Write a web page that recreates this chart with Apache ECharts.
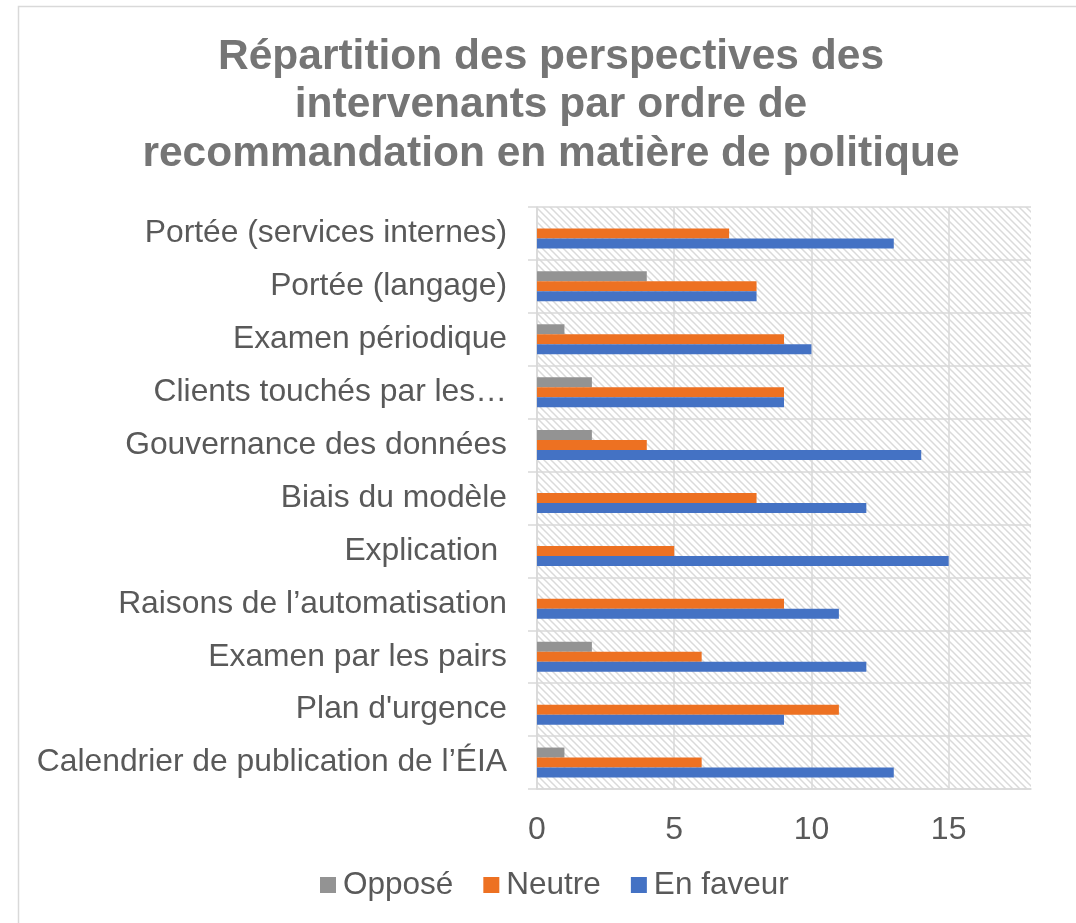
<!DOCTYPE html>
<html>
<head>
<meta charset="utf-8">
<script src="https://cdn.jsdelivr.net/npm/echarts@6/dist/echarts.min.js"></script>
<style>
html,body{margin:0;padding:0;background:#fff;}
#chart{width:1076px;height:923px;}
</style>
</head>
<body>
<div id="chart"></div>
<script>
const categories = [
  "Portée (services internes)",
  "Portée (langage)",
  "Examen périodique",
  "Clients touchés par les…",
  "Gouvernance des données",
  "Biais du modèle",
  "Explication ",
  "Raisons de l’automatisation",
  "Examen par les pairs",
  "Plan d'urgence",
  "Calendrier de publication de l’ÉIA"
];
const oppose   = [0, 4, 1, 2, 2, 0, 0, 0, 2, 0, 1];
const neutre   = [7, 8, 9, 9, 4, 8, 5, 9, 6, 11, 6];
const enFaveur = [13, 8, 10, 9, 14, 12, 15, 11, 12, 9, 13];
const xTicks = [0, 5, 10, 15];

// hatch pattern
const T = 7;
const pc = document.createElement('canvas');
pc.width = T; pc.height = T;
const g = pc.getContext('2d');
g.fillStyle = '#ffffff';
g.fillRect(0, 0, T, T);
g.strokeStyle = '#dadada';
g.lineWidth = 1.5;
g.beginPath();
g.moveTo(-2, -2); g.lineTo(T + 2, T + 2);
g.moveTo(-2, T - 2); g.lineTo(2, T + 2);
g.moveTo(T - 2, -2); g.lineTo(T + 2, 2);
g.stroke();

const font = 'Liberation Sans, Arial, sans-serif';
const gridColor = '#d9d9d9';
const chart = echarts.init(document.getElementById('chart'), null, {renderer: 'canvas'});
chart.setOption({
  backgroundColor: '#ffffff',
  animation: false,
  title: {
    text: 'Répartition des perspectives des\nintervenants par ordre de\nrecommandation en matière de politique',
    left: 546, top: 28, textAlign: 'center',
    textStyle: {fontFamily: font, fontSize: 42.5, fontWeight: 'bold', color: '#757575', lineHeight: 48.5}
  },
  graphic: [{
    type: 'rect', silent: true, z: -1,
    shape: {x: 18.5, y: 6.5, width: 1200, height: 1000},
    style: {fill: 'none', stroke: gridColor, lineWidth: 1.5}
  }],
  legend: {
    bottom: 17, left: 315,
    itemWidth: 16, itemHeight: 16, itemGap: 30,
    icon: 'rect',
    textStyle: {fontFamily: font, fontSize: 31.5, color: '#595959', padding: [0,0,0,2]},
    data: ['Opposé', 'Neutre', 'En faveur']
  },
  grid: {
    left: 537, right: 45, top: 207, bottom: 134,
    show: true, borderWidth: 0,
    backgroundColor: {image: pc, repeat: 'repeat'}
  },
  xAxis: {
    type: 'value', min: 0, max: 18, interval: 5,
    axisLine: {show: true, lineStyle: {color: gridColor, width: 1.5}},
    axisTick: {show: false},
    axisLabel: {
      fontFamily: font, fontSize: 32, color: '#595959', margin: 25,
      showMaxLabel: false,
      formatter: v => xTicks.includes(v) ? String(v) : ''
    },
    splitLine: {show: true, showMaxLine: false,
      lineStyle: {color: [gridColor, gridColor, gridColor, gridColor, 'rgba(0,0,0,0)'], width: 1.5}}
  },
  yAxis: {
    type: 'category', data: categories, inverse: true,
    axisLine: {show: true, lineStyle: {color: gridColor, width: 1.5}},
    axisTick: {show: true, length: 9, lineStyle: {color: gridColor, width: 1.5}},
    axisLabel: {fontFamily: font, fontSize: 31.8, color: '#595959', margin: 30},
    splitLine: {show: true, lineStyle: {color: gridColor, width: 1.5}}
  },
  series: [
    {name: 'Opposé', type: 'bar', data: oppose, barWidth: 10, barGap: '0%', itemStyle: {color: '#939393'}},
    {name: 'Neutre', type: 'bar', data: neutre, barWidth: 10, barGap: '0%', itemStyle: {color: '#ed7122'}},
    {name: 'En faveur', type: 'bar', data: enFaveur, barWidth: 10, barGap: '0%', itemStyle: {color: '#4472c4'}}
  ]
});
</script>
</body>
</html>
